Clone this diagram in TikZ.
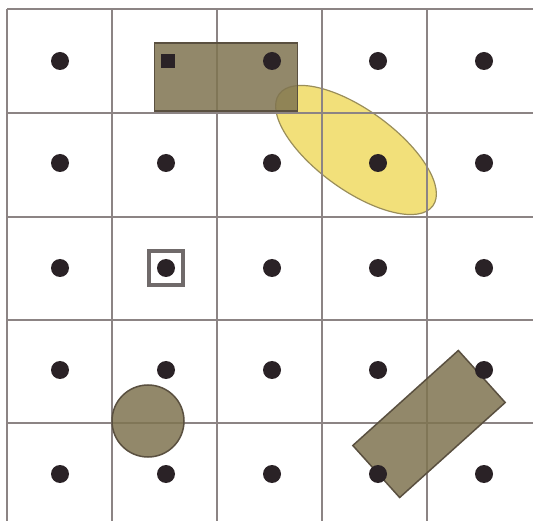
\documentclass[tikz,border=0pt]{standalone}
\usetikzlibrary{shapes.geometric}
\definecolor{gridc}{HTML}{8C8484}
\definecolor{olive}{HTML}{7F7450}
\definecolor{oliveb}{HTML}{5A5040}
\definecolor{yell}{HTML}{F2E07A}
\definecolor{yellb}{HTML}{9A8E5A}
\definecolor{dotc}{HTML}{2A2226}
\tikzset{
  gridline/.style={draw=gridc, line width=1.6pt},
  pt/.style={circle, fill=dotc, minimum size=18pt, inner sep=0pt},
  block/.style={fill=olive, fill opacity=0.85, draw=oliveb, line width=1.5pt},
}
\begin{document}
\begin{tikzpicture}[x=1pt,y=-1pt]
\useasboundingbox (0,0) rectangle (533,521);
\fill[white] (0,0) rectangle (533,521);
% ellipse (behind grid)
\node[ellipse, draw=yellb, line width=1.2pt, fill=yell, minimum width=190pt, minimum height=80pt, rotate=-36, inner sep=0pt] (ell) at (356,150) {};
% grid
\foreach \x in {7,112,217,322,427} {\draw[gridline] (\x,9) -- (\x,521);}
\foreach \y in {9,113,217,320,423} {\draw[gridline] (7,\y) -- (533,\y);}
% shapes
\node[block, minimum width=143pt, minimum height=68pt, inner sep=0pt] (rect) at (226,77) {};
\node[circle, block, minimum size=72pt, inner sep=0pt] (circ) at (148,421) {};
\node[block, minimum width=142pt, minimum height=70pt, inner sep=0pt, rotate=42] (rrect) at (429,424) {};
\node[draw=gridc!80!black, fill=white, line width=4pt, minimum size=34pt, inner sep=0pt] (frame) at (166,268) {};
% dots
\foreach \i/\x in {1/60,2/166,3/272,4/378,5/484} {
  \foreach \j/\y in {2/163,3/268,4/370,5/474} {
    \node[pt] (d\i\j) at (\x,\y) {};
  }
}
\node[pt] (d11) at (60,61) {};
\node[pt] (d31) at (272,61) {};
\node[pt] (d41) at (378,61) {};
\node[pt] (d51) at (484,61) {};
\node[fill=dotc, minimum size=14pt, inner sep=0pt] (sq) at (168,61) {};
\end{tikzpicture}
\end{document}
